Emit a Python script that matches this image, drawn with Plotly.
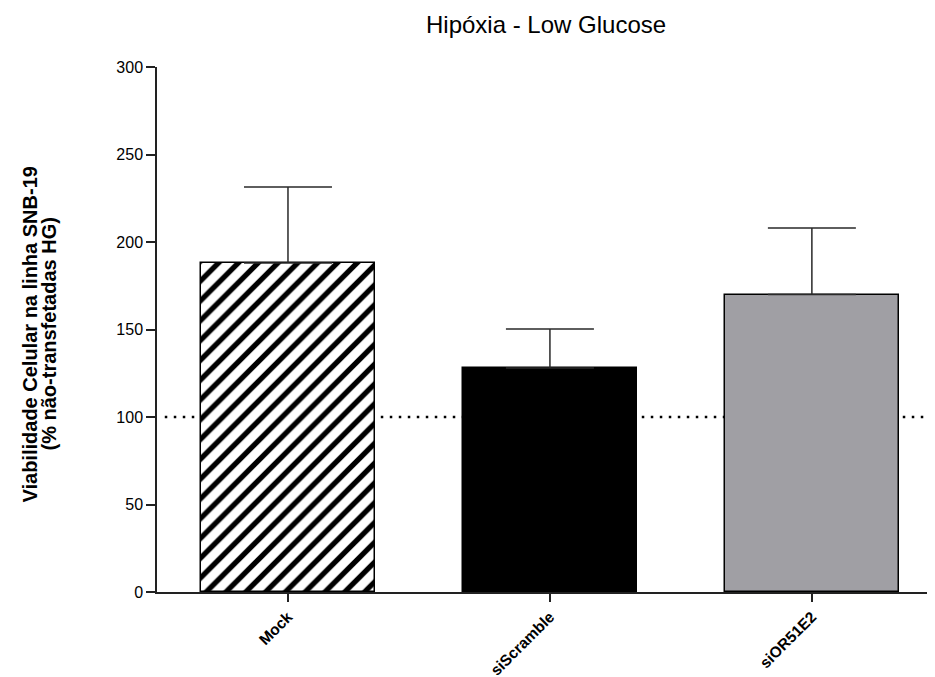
import plotly.graph_objects as go

categories = ["Mock", "siScramble", "siOR51E2"]
means = [188, 128, 170]
errors_up = [43.5, 22.3, 38]
baseline = 100
title_text = "Hipóxia - Low Glucose"
y_title_line1 = "Viabilidade Celular na linha SNB-19"
y_title_line2 = "(% não-transfetadas HG)"
y_ticks = [0, 50, 100, 150, 200, 250, 300]

FONT = "Arial, 'Liberation Sans', Helvetica, sans-serif"

fig = go.Figure()

fills = ["#000000", "#000000", "#A09FA4"]
patterns = [
    dict(shape="/", fgcolor="#000000", bgcolor="#FFFFFF", fgopacity=1, size=14, solidity=0.38, fillmode="replace"),
    dict(shape=""),
    dict(shape=""),
]

for i, cat in enumerate(categories):
    fig.add_trace(go.Bar(
        x=[cat], y=[means[i]],
        width=0.664,
        marker=dict(color=fills[i], line=dict(color="#000000", width=1.5), pattern=patterns[i]),
        error_y=dict(type="data", symmetric=False, array=[errors_up[i]], arrayminus=[0],
                     color="#2a2a2a", thickness=1.5, width=44),
        showlegend=False,
    ))

fig.add_shape(type="line", xref="paper", yref="y", x0=0.01, x1=1.0, y0=baseline, y1=baseline,
              line=dict(color="#000000", width=2.5, dash="2.5px,6.5px"), layer="below")

fig.add_annotation(text=y_title_line1, xref="paper", yref="paper", x=0, y=0.5, xanchor="center", yanchor="middle",
                   xshift=-128, yshift=-5, textangle=-90, showarrow=False,
                   font=dict(family=FONT, size=20, color="#000000", weight="bold"))
fig.add_annotation(text=y_title_line2, xref="paper", yref="paper", x=0, y=0.5, xanchor="center", yanchor="middle",
                   xshift=-109, yshift=-5, textangle=-90, showarrow=False,
                   font=dict(family=FONT, size=20, color="#000000", weight="bold"))

fig.add_annotation(text=title_text, xref="paper", yref="paper", x=0.5, y=1, xanchor="center", yanchor="middle",
                   yshift=43, showarrow=False,
                   font=dict(family=FONT, size=24, color="#000000"))

fig.update_layout(
    width=935, height=677,
    margin=dict(l=149, r=8, t=59, b=93),
    paper_bgcolor="white", plot_bgcolor="white",
    bargap=0,
    xaxis=dict(type="category", range=[-0.5, 2.47], showline=True, linecolor="#222222", linewidth=1.5,
               ticks="outside", ticklen=8, tickwidth=1.5, tickcolor="#222222",
               tickangle=-45, tickfont=dict(family=FONT, size=15.5, color="#000000", weight="bold"),
               showgrid=False, zeroline=False, automargin=False),
    yaxis=dict(range=[0, 300], tickvals=y_ticks, showline=True, linecolor="#222222", linewidth=1.5,
               ticks="outside", ticklen=9, tickwidth=1.5, tickcolor="#222222",
               tickfont=dict(family=FONT, size=16, color="#000000"),
               showgrid=False, zeroline=False, automargin=False),
)

fig.write_html("out.html")
